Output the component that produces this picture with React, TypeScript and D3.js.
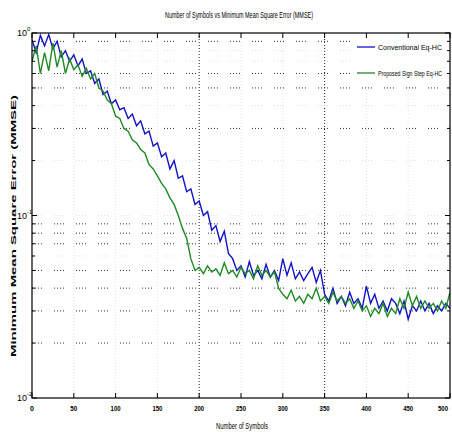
import React from "react";
import * as d3 from "d3";

const symbols: number[] = d3.range(0, 501, 5);

const conventional: number[] = [
  0.92, 0.78, 0.97, 0.85, 0.98, 0.82, 0.9, 0.74, 0.8, 0.7,
  0.76, 0.66, 0.72, 0.6, 0.62, 0.53, 0.56, 0.46, 0.48, 0.41,
  0.43, 0.38, 0.39, 0.34, 0.36, 0.31, 0.33, 0.28, 0.29, 0.24,
  0.25, 0.21, 0.22, 0.18, 0.2, 0.16, 0.165, 0.135, 0.14, 0.115,
  0.12, 0.1, 0.105, 0.083, 0.088, 0.072, 0.082, 0.062, 0.058, 0.05,
  0.053, 0.046, 0.056, 0.047, 0.05, 0.045, 0.054, 0.046, 0.05, 0.044,
  0.058, 0.047, 0.055, 0.045, 0.049, 0.044, 0.048, 0.052, 0.043, 0.05,
  0.037, 0.034, 0.04, 0.033, 0.036, 0.032, 0.038, 0.033, 0.035, 0.031,
  0.041, 0.033, 0.037, 0.031, 0.034, 0.03, 0.035, 0.033, 0.029, 0.034,
  0.027, 0.032, 0.03, 0.034, 0.03, 0.033, 0.029, 0.032, 0.03, 0.033,
  0.031,
];

const proposed: number[] = [
  0.7, 0.85, 0.6, 0.78, 0.62, 0.88, 0.65, 0.8, 0.6, 0.72,
  0.63, 0.67, 0.58, 0.64, 0.56, 0.6, 0.5, 0.48, 0.43, 0.41,
  0.35, 0.34, 0.3, 0.29, 0.26, 0.25, 0.23, 0.22, 0.19, 0.18,
  0.165, 0.15, 0.14, 0.125, 0.115, 0.1, 0.085, 0.075, 0.058, 0.05,
  0.052, 0.048, 0.053, 0.049, 0.051, 0.047, 0.055, 0.048, 0.05, 0.046,
  0.052, 0.048, 0.05, 0.045, 0.053, 0.047, 0.05, 0.046, 0.049, 0.04,
  0.037, 0.035, 0.039, 0.034, 0.036, 0.033, 0.037, 0.035, 0.04, 0.034,
  0.036, 0.033, 0.038, 0.034, 0.036, 0.033, 0.035, 0.031, 0.034, 0.03,
  0.032, 0.028, 0.031, 0.029, 0.033, 0.028, 0.031, 0.029, 0.035, 0.031,
  0.038, 0.032, 0.036, 0.031, 0.034, 0.031, 0.033, 0.03, 0.034, 0.031,
  0.038,
];

const seriesNames: string[] = ["Conventional Eq-HC", "Proposed Sign Step Eq-HC"];
const xTicks: number[] = [0, 50, 100, 150, 200, 250, 300, 350, 400, 450, 500];
const yMajor: number[] = [1, 0.1, 0.01];
const yExponents: string[] = ["0", "-1", "-2"];
const titleText = "Number of Symbols vs Minimum Mean Square Error (MMSE)";
const xLabel = "Number of Symbols";
const yLabel = "Minimum Mean Square Error (MMSE)";

const L = 32, R = 450, T = 33, B = 398;

export default function App() {
  const x = d3.scaleLinear().domain([0, 500]).range([L, R]);
  const y = d3.scaleLog().domain([0.01, 1]).range([B, T]);
  const minor: number[] = [];
  [0.01, 0.1].forEach((d) => {
    for (let k = 2; k <= 9; k++) minor.push(d * k);
  });
  const strongMinor = new Set([0.9, 0.6, 0.5, 0.3, 0.09, 0.08, 0.07, 0.05, 0.04, 0.03, 0.02].map((v) => v.toFixed(3)));
  const strongX = new Set([200, 350]);
  const line = d3
    .line<number>()
    .x((_, i) => x(symbols[i]))
    .y((d) => y(d))
    .curve(d3.curveLinear);
  const colors = ["#1212c4", "#1f8a24"];
  const font = "Liberation Sans, Arial, sans-serif";
  return (
    <svg width={452} height={432} style={{ position: "absolute", left: 0, top: 0, background: "#fff" }}>
      <rect x={0} y={0} width={452} height={432} fill="#fff" />
      {xTicks.slice(1, -1).map((t) => (
        <line key={"gx" + t} x1={x(t)} x2={x(t)} y1={T} y2={B}
          stroke={strongX.has(t) ? "#222" : "#e2e2e2"} strokeWidth={1} strokeDasharray="1,2" />
      ))}
      {[...minor, 0.1].map((v) => (
        <line key={"gy" + v} x1={L} x2={R} y1={y(v)} y2={y(v)}
          stroke={strongMinor.has(v.toFixed(3)) ? "#333" : "#e0e0e0"} strokeWidth={1}
          strokeDasharray="1,2,1,2,1,2,1,12" />
      ))}
      <defs>
        <clipPath id="pc"><rect x={L} y={T} width={R - L} height={B - T} /></clipPath>
      </defs>
      <g clipPath="url(#pc)">
        <path d={line(conventional) || ""} fill="none" stroke={colors[0]} strokeWidth={1.4} />
        <path d={line(proposed) || ""} fill="none" stroke={colors[1]} strokeWidth={1.4} />
      </g>
      <rect x={352} y={36} width={96} height={50} fill="#fff" />
      {seriesNames.map((n, i) => (
        <g key={n}>
          <line x1={357} x2={375} y1={47 + i * 26} y2={47 + i * 26} stroke={colors[i]} strokeWidth={1.3} />
          <text x={378} y={50 + i * 26} fontSize={i === 0 ? 8 : 6.5} fontFamily={font} textLength={64} lengthAdjust="spacingAndGlyphs">{n}</text>
        </g>
      ))}
      <rect x={L} y={T} width={R - L} height={B - T} fill="none" stroke="#000" strokeWidth={1.2} />
      {xTicks.map((t) => (
        <g key={"xt" + t}>
          <line x1={x(t)} x2={x(t)} y1={B} y2={B - 5} stroke="#000" />
          <line x1={x(t)} x2={x(t)} y1={T} y2={T + 5} stroke="#000" />
          <text x={Math.min(x(t), 443)} y={411} fontSize={7} fontFamily={font} fontWeight="bold" textAnchor="middle"
            textLength={t < 10 ? 4 : t < 100 ? 7 : 10} lengthAdjust="spacingAndGlyphs">{t}</text>
        </g>
      ))}
      {yMajor.map((v, i) => (
        <g key={"yt" + v}>
          <line x1={L} x2={L + 5} y1={y(v)} y2={y(v)} stroke="#000" />
          <line x1={R} x2={R - 5} y1={y(v)} y2={y(v)} stroke="#000" />
          <text x={17} y={y(v) + 3} fontSize={9} fontFamily={font}>
            10<tspan dy={-5} fontSize={6}>{yExponents[i]}</tspan>
          </text>
        </g>
      ))}
      {minor.map((v) => (
        <g key={"ymt" + v}>
          <line x1={L} x2={L + 3} y1={y(v)} y2={y(v)} stroke="#000" />
          <line x1={R} x2={R - 3} y1={y(v)} y2={y(v)} stroke="#000" />
        </g>
      ))}
      <text x={239} y={18} fontSize={9} fontFamily={font} textAnchor="middle" textLength={148} lengthAdjust="spacingAndGlyphs">{titleText}</text>
      <text x={242} y={429} fontSize={9} fontFamily={font} textAnchor="middle" textLength={52} lengthAdjust="spacingAndGlyphs">{xLabel}</text>
      <text transform={`translate(16,226) rotate(-90)`} fontSize={8} fontFamily={font} fontWeight="bold" textAnchor="middle" textLength={262} lengthAdjust="spacingAndGlyphs">{yLabel}</text>
    </svg>
  );
}
